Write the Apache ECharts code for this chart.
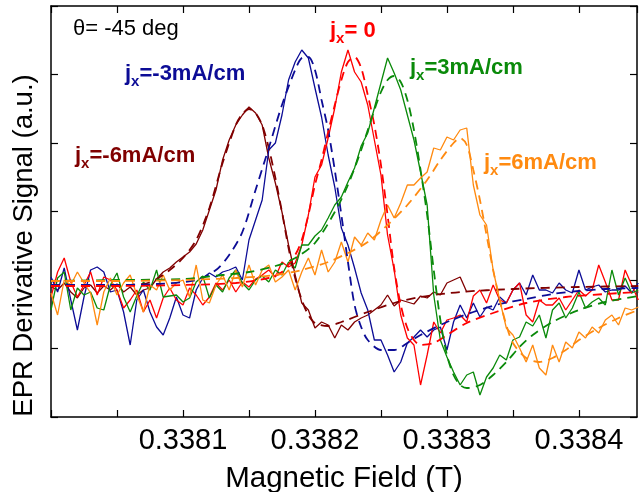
<!DOCTYPE html>
<html>
<head>
<meta charset="utf-8">
<script src="https://cdn.jsdelivr.net/npm/echarts@6/dist/echarts.min.js"></script>
<style>
  html, body { margin: 0; padding: 0; background: #fff; }
</style>
</head>
<body>
<!-- EPR spectra, theta = -45 deg -->
<div id="epr" style="width:640px;height:492px;"></div>
<script>
// field sweep (T), shared by all measured traces
var fields = [
  0.338000, 0.338005, 0.338010, 0.338015, 0.338020, 0.338025, 0.338030, 0.338035, 0.338040, 0.338045,
  0.338050, 0.338055, 0.338060, 0.338065, 0.338070, 0.338075, 0.338080, 0.338085, 0.338090, 0.338095,
  0.338100, 0.338105, 0.338110, 0.338115, 0.338120, 0.338125, 0.338130, 0.338135, 0.338140, 0.338145,
  0.338150, 0.338155, 0.338160, 0.338165, 0.338170, 0.338175, 0.338180, 0.338185, 0.338190, 0.338195,
  0.338200, 0.338205, 0.338210, 0.338215, 0.338220, 0.338225, 0.338230, 0.338235, 0.338240, 0.338245,
  0.338250, 0.338255, 0.338260, 0.338265, 0.338270, 0.338275, 0.338280, 0.338285, 0.338290, 0.338295,
  0.338300, 0.338305, 0.338310, 0.338315, 0.338320, 0.338325, 0.338330, 0.338335, 0.338340, 0.338345,
  0.338350, 0.338355, 0.338360, 0.338365, 0.338370, 0.338375, 0.338380, 0.338385, 0.338390, 0.338395,
  0.338400, 0.338405, 0.338410, 0.338415, 0.338420, 0.338425, 0.338430, 0.338435, 0.338440, 0.338445
];

// measured derivative signal (a.u.)
var sigM6 = [-7, -10, -3, -12, -18, -8, -5, -13, -6, -10, -4, -12, -7, -15, -10, -8, 1, 8, 12, 18,
  23, 28, 36, 50, 70, 90, 120, 140, 155, 165, 173, 167, 155, 122, 97, 68, 35, 5, -23, -30,
  -48, -42, -45, -58, -45, -50, -42, -38, -35, -30, -25, -15, -26, -20, -22, -24, -16, -18, -12, -15,
  -3, 0, 3, -12];
var sigM3 = [3, -12, 12, -20, -50, -17, 10, 13, 8, -12, -10, -32, -65, -20, -10, -32, -47, -55, -38, -17,
  -35, -38, -10, 2, 7, 3, 8, 10, 13, 0, 40, 60, 80, 130, 137, 165, 200, 218, 230, 222,
  192, 163, 125, 93, 52, 35, 12, -13, -30, -60, -60, -75, -92, -82, -63, -57, -50, -57, -50, -47,
  -70, -42, -25, -38, -23, -37, -27, -30, -17, -23, -10, -3, -15, 5, -10, -10, -13, -3, -10, -13,
  10, -10, -7, -5, -12, -10, -10, -6, -13, -3];
var sig0 = [-17, 8, 22, -2, -17, -5, 8, -15, 3, 0, -10, -28, -20, -10, -32, -20, -38, -18, -8, -20,
  -25, -8, -15, -25, -17, -3, -10, 0, -12, -2, -7, 1, 5, 10, 3, 18, 13, 17, 35, 65,
  103, 115, 142, 172, 208, 230, 208, 198, 175, 140, 105, 45, 10, -35, -58, -65, -105, -75, -42, -53,
  -40, -38, -35, -42, -16, -10, -23, -5, -20, -23, -10, -3, -35, -42, -20, -25, -25, -18, -30, -20,
  -10, -16, -10, 15, -2, -20, -20, 10, -5, -20];
var sigP3 = [-30, 2, 8, -30, -8, -15, -12, -28, -30, -5, 7, -17, -32, -16, -2, -10, 10, -17, -16, -15,
  -22, -18, -2, 4, -18, -5, -12, 2, 10, -3, -10, 0, 4, -2, 10, 5, 18, 12, 35, 35,
  44, 50, 62, 75, 83, 98, 112, 134, 147, 172, 197, 222, 207, 190, 165, 140, 108, 75, -15, -60,
  -77, -92, -105, -95, -92, -115, -97, -88, -75, -80, -60, -57, -42, -46, -35, -58, -30, -23, -38, -28,
  -12, -28, -22, -18, -25, 10, -15, 2, -13, -10];
var sigP6 = [-13, -35, 0, -5, 8, -3, -13, -45, -12, 2, -15, -3, 5, -15, -32, -5, -10, 5, -10, -3,
  0, -17, 15, -20, -23, -5, 5, -10, 10, -7, 15, -5, 10, 15, -2, 3, 10, -10, 8, 22,
  5, 30, 8, 18, 38, 18, 43, 35, 47, 40, 60, 75, 62, 77, 95, 95, 102, 108, 132, 130,
  143, 140, 150, 152, 95, 65, 55, 10, -20, -48, -55, -68, -82, -65, -88, -95, -65, -82, -62, -68,
  -52, -58, -47, -53, -40, -35, -45, -28, -30, -27];

// fitted lineshapes
var fitM6X = [0.338000, 0.338040, 0.338070, 0.338080, 0.338090, 0.338100, 0.338110, 0.338120, 0.338130, 0.338140,
  0.338145, 0.338150, 0.338155, 0.338160, 0.338165, 0.338170, 0.338175, 0.338180, 0.338185, 0.338190,
  0.338195, 0.338200, 0.338210, 0.338220, 0.338240, 0.338260, 0.338280, 0.338310, 0.338350, 0.338400, 0.338445];
var fitM6Y = [-5, -5, -4, 1, 10, 22, 40, 72, 117, 155, 166, 171, 167, 155, 132, 102, 68, 32, 2, -20,
  -35, -43, -46, -42, -32, -23, -17, -12, -9, -7, -6];
var fitM3X = [0.338000, 0.338040, 0.338080, 0.338110, 0.338125, 0.338135, 0.338145, 0.338155, 0.338165, 0.338175,
  0.338185, 0.338190, 0.338195, 0.338200, 0.338205, 0.338210, 0.338215, 0.338220, 0.338225, 0.338230,
  0.338235, 0.338240, 0.338250, 0.338260, 0.338270, 0.338280, 0.338300, 0.338320, 0.338340, 0.338360,
  0.338380, 0.338400, 0.338420, 0.338445];
var fitM3Y = [-5, -5, -4, 0, 10, 25, 48, 90, 132, 175, 210, 222, 223, 210, 180, 150, 110, 65, 18, -25,
  -47, -60, -70, -70, -63, -55, -42, -32, -24, -19, -14, -11, -9, -8];
var fit0X = [0.338000, 0.338050, 0.338100, 0.338140, 0.338165, 0.338175, 0.338185, 0.338190, 0.338195, 0.338200,
  0.338205, 0.338210, 0.338215, 0.338220, 0.338225, 0.338230, 0.338235, 0.338240, 0.338245, 0.338250,
  0.338255, 0.338260, 0.338265, 0.338270, 0.338275, 0.338280, 0.338290, 0.338300, 0.338315, 0.338335,
  0.338360, 0.338390, 0.338420, 0.338445];
var fit0Y = [-6, -6, -5, -3, 2, 8, 25, 40, 65, 95, 120, 148, 175, 200, 218, 223, 212, 185, 155, 115,
  65, 12, -25, -48, -60, -65, -63, -55, -43, -33, -23, -17, -14, -12];
var fitP3X = [0.338000, 0.338050, 0.338100, 0.338130, 0.338150, 0.338170, 0.338185, 0.338200, 0.338215, 0.338225,
  0.338235, 0.338245, 0.338250, 0.338255, 0.338260, 0.338265, 0.338270, 0.338275, 0.338280, 0.338285,
  0.338290, 0.338295, 0.338300, 0.338305, 0.338310, 0.338315, 0.338325, 0.338335, 0.338345, 0.338355,
  0.338365, 0.338380, 0.338400, 0.338420, 0.338445];
var fitP3Y = [-1, 0, 1, 5, 8, 14, 22, 37, 68, 95, 130, 170, 188, 200, 204, 198, 180, 150, 110, 65,
  10, -40, -75, -95, -105, -108, -105, -95, -82, -67, -55, -42, -30, -22, -16];
var fitP6X = [0.338000, 0.338050, 0.338100, 0.338140, 0.338170, 0.338190, 0.338210, 0.338225, 0.338240, 0.338255,
  0.338270, 0.338285, 0.338295, 0.338305, 0.338310, 0.338315, 0.338320, 0.338325, 0.338330, 0.338335,
  0.338340, 0.338345, 0.338350, 0.338360, 0.338370, 0.338380, 0.338390, 0.338400, 0.338415, 0.338430, 0.338445];
var fitP6Y = [-1, -1, 0, 2, 5, 10, 18, 27, 38, 55, 75, 100, 120, 137, 142, 135, 110, 80, 45, 10,
  -20, -45, -63, -78, -82, -78, -70, -60, -48, -38, -30];

// x tick labels that are printed
var xTickLabels = ['0.3381', '0.3382', '0.3383', '0.3384'];

var names = ['jx=-6mA/cm', 'jx=-3mA/cm', 'jx=0', 'jx=3mA/cm', 'jx=6mA/cm'];
var colors = ['#800000', '#0c0c96', '#ff0000', '#0a8a0a', '#ff8a10'];
var signals = [sigM6, sigM3, sig0, sigP3, sigP6];
var fitXs = [fitM6X, fitM3X, fit0X, fitP3X, fitP6X];
var fitYs = [fitM6Y, fitM3Y, fit0Y, fitP3Y, fitP6Y];

function pairs(xs, ys) {
  var out = [];
  for (var i = 0; i < ys.length; i++) out.push([xs[i], ys[i]]);
  return out;
}

var series = [];
for (var k = 0; k < names.length; k++) {
  series.push({
    name: names[k],
    type: 'line',
    data: pairs(fields, signals[k]),
    symbol: 'none',
    lineStyle: { color: colors[k], width: 1.3 },
    z: 2
  });
}
for (var k = 0; k < names.length; k++) {
  series.push({
    name: names[k] + ' fit',
    type: 'line',
    data: pairs(fitXs[k], fitYs[k]),
    symbol: 'none',
    smooth: 0.3,
    lineStyle: { color: colors[k], width: 1.8, type: [9, 6] },
    z: 3
  });
}

var font = '"Liberation Sans", Arial, sans-serif';

function jLabel(rest, color, left, top) {
  return {
    type: 'text',
    left: left,
    top: top,
    style: {
      text: '{a|j}{b|x}{a|' + rest + '}',
      rich: {
        a: { fontSize: 22, fontWeight: 'bold', fontFamily: font, fill: color, lineHeight: 26, verticalAlign: 'top' },
        b: { fontSize: 15, fontWeight: 'bold', fontFamily: font, fill: color, lineHeight: 26, verticalAlign: 'bottom' }
      }
    }
  };
}

var chart = echarts.init(document.getElementById('epr'));
chart.setOption({
  animation: false,
  backgroundColor: '#fff',
  // fixed plot box, labels may sit outside it
  grid: { left: 51, right: 3, top: 6, bottom: 75, containLabel: false, outerBoundsMode: 'none' },
  xAxis: [{
    type: 'value',
    min: 0.338000,
    max: 0.338444,
    interval: 0.00005,
    name: 'Magnetic Field (T)',
    nameLocation: 'middle',
    nameGap: 47,
    nameTextStyle: { fontSize: 29.5, fontFamily: font, color: '#000' },
    axisLine: { onZero: false, lineStyle: { color: '#000', width: 1.5 } },
    axisTick: { inside: true, length: 7, lineStyle: { color: '#000', width: 1.2 } },
    axisLabel: {
      fontSize: 29, fontFamily: font, color: '#000', margin: 9,
      showMaxLabel: false,
      formatter: function (v) {
        var s = v.toFixed(4);
        return (Math.abs(v - Number(s)) < 1e-9 && xTickLabels.indexOf(s) >= 0) ? s : '';
      }
    },
    splitLine: { show: false }
  }, {
    type: 'value',
    position: 'top',
    min: 0.338000,
    max: 0.338444,
    interval: 0.00005,
    axisLine: { onZero: false, lineStyle: { color: '#000', width: 1.5 } },
    axisTick: { inside: true, length: 7, lineStyle: { color: '#000', width: 1.2 } },
    axisLabel: { show: false },
    splitLine: { show: false }
  }],
  yAxis: [{
    type: 'value',
    min: -137,
    max: 274,
    interval: 68.5,
    name: 'EPR Derivative Signal (a.u.)',
    nameLocation: 'middle',
    nameGap: 13,
    nameTextStyle: { fontSize: 27.5, fontFamily: font, color: '#000', padding: [0, 68, 0, 0] },
    axisLine: { show: true, onZero: false, lineStyle: { color: '#000', width: 1.5 } },
    axisTick: { show: true, inside: true, length: 7, lineStyle: { color: '#000', width: 1.2 } },
    axisLabel: { show: false },
    splitLine: { show: false }
  }, {
    type: 'value',
    position: 'right',
    min: -137,
    max: 274,
    interval: 68.5,
    axisLine: { show: true, onZero: false, lineStyle: { color: '#000', width: 1.5 } },
    axisTick: { show: true, inside: true, length: 7, lineStyle: { color: '#000', width: 1.2 } },
    axisLabel: { show: false },
    splitLine: { show: false }
  }],
  graphic: [
    { type: 'text', left: 73, top: 18, style: { text: 'θ= -45 deg', font: '22px ' + font, fill: '#000' } },
    jLabel('=-3mA/cm', colors[1], 125, 63),
    jLabel('=-6mA/cm', colors[0], 75, 145),
    jLabel('= 0', colors[2], 330, 20),
    jLabel('=3mA/cm', colors[3], 410, 57),
    jLabel('=6mA/cm', colors[4], 484, 152)
  ],
  series: series
});
</script>
</body>
</html>
